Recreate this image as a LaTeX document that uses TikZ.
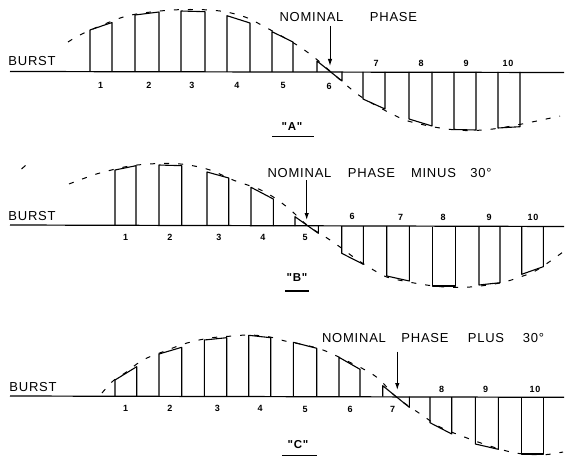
\documentclass[tikz,border=0pt]{standalone}
\usepackage{fontspec}
\setmainfont{Liberation Sans}
\newfontfamily\lettering[LetterSpace=6]{Liberation Sans}
\usetikzlibrary{arrows.meta}
\newcommand\pulse[5]{\draw[pulseline] (#1,#5) -- (#1,#2) -- (#3,#4) -- (#3,#5);}
\begin{document}
\begin{tikzpicture}[x=1pt,y=-1pt,
  baseline/.style={line width=1.2pt,black},
  pulseline/.style={line width=1.1pt,black,line join=round},
  envelope/.style={line width=1.0pt,black,dash pattern=on 5pt off 9pt},
  title/.style={font=\lettering\fontsize{13}{14}\selectfont,inner sep=0pt},
  num/.style={font=\lettering\bfseries\fontsize{9}{10}\selectfont,inner sep=0pt},
  lbl/.style={font=\lettering\bfseries\fontsize{11.5}{13}\selectfont,inner sep=0pt},
  arrowline/.style={line width=1.0pt,-{Latex[length=7pt,width=4.5pt]}}]
\useasboundingbox (0,0) rectangle (565,468);

% ================= Panel A =================
\node[title] (a-burst) at (32,61) {BURST};
\draw[baseline] (10,71.5) -- (564,72.5);
\draw[envelope] plot[smooth,tension=0.6] coordinates {(68,42) (80,35) (100,26) (127,16) (160,11) (190,9.5) (220,11) (245,17) (265,27) (285,38) (300,47) (315,58) (330,71) (345,84) (360,96) (375,105) (390,113) (405,120) (420,124) (440,128) (465,130.5) (493,129) (527,123) (560,116)};
\pulse{90}{30}{112}{22.5}{72}
\pulse{135}{15}{159}{12}{72}
\pulse{181}{11}{205}{11.7}{72}
\pulse{227}{15.7}{250}{23}{72}
\pulse{272}{31.7}{293}{42}{72}
\pulse{317}{61}{342}{81}{72}
\pulse{363}{99}{385}{109}{72}
\pulse{409}{119}{432}{126}{72}
\pulse{454}{129.5}{476}{130}{72}
\pulse{498}{128}{520}{126.7}{72}
\node[num] (a1) at (100.7,85) {1};
\node[num] (a2) at (149,85) {2};
\node[num] (a3) at (192,85) {3};
\node[num] (a4) at (237,85) {4};
\node[num] (a5) at (283,85) {5};
\node[num] (a6) at (329,86) {6};
\node[num] (a7) at (376,63) {7};
\node[num] (a8) at (421,63) {8};
\node[num] (a9) at (466,63) {9};
\node[num] (a10) at (508,63) {10};
\node[title] (a-nom) at (311.5,17) {NOMINAL};
\node[title] (a-pha) at (393.5,17) {PHASE};
\coordinate (a-arr-s) at (330,26);
\coordinate (a-arr-e) at (330,66);
\draw[arrowline] (a-arr-s) -- (a-arr-e);
\node[lbl] (a-lbl) at (292,127) {"A"};
\draw[line width=1.1pt] (272,136.5) -- (314,136.5);

% ================= Panel B =================
\draw[line width=1pt] (21.5,169) -- (25.5,165.5);
\node[title] (b-burst) at (32,216) {BURST};
\draw[baseline] (10,225) -- (564,226.5);
\draw[envelope] plot[smooth,tension=0.6] coordinates {(69,184) (85,178) (100,173) (130,166) (160,163.5) (185,164.5) (210,170) (233,180) (263,191) (287,207) (307,225) (327,238) (340,247) (352,256) (363,263.5) (377,272) (390,278) (420,284) (445,287) (470,287) (500,283) (520,277) (537,270) (563,252)};
\pulse{115}{170}{136}{165.7}{225.5}
\pulse{159}{165}{181.7}{165.7}{225.5}
\pulse{207}{172}{228.7}{178}{225.5}
\pulse{251}{187.3}{273.3}{199}{226}
\pulse{295}{216.7}{318.3}{233.3}{226}
\pulse{341.7}{253.3}{363.3}{264.3}{226}
\pulse{386.7}{276}{409.3}{281}{226}
\pulse{432.7}{286}{455.7}{286}{226.5}
\pulse{479}{285}{500}{282.7}{226.5}
\pulse{521.7}{274.3}{543.3}{266.7}{226.5}
\node[num] (b1) at (125.7,237) {1};
\node[num] (b2) at (170,237) {2};
\node[num] (b3) at (219,237) {3};
\node[num] (b4) at (263,237) {4};
\node[num] (b5) at (305,237) {5};
\node[num] (b6) at (352,216.7) {6};
\node[num] (b7) at (400.7,217) {7};
\node[num] (b8) at (443,217) {8};
\node[num] (b9) at (489,217) {9};
\node[num] (b10) at (533,217) {10};
\node[title] (b-nom) at (299.5,173) {NOMINAL};
\node[title] (b-pha) at (371.5,173) {PHASE};
\node[title] (b-min) at (433.5,173) {MINUS};
\node[title] (b-deg) at (481,173) {30°};
\coordinate (b-arr-s) at (306.7,180);
\coordinate (b-arr-e) at (306.7,220);
\draw[arrowline] (b-arr-s) -- (b-arr-e);
\node[lbl] (b-lbl) at (297,278) {"B"};
\draw[line width=1.1pt] (285,291) -- (309,291);

% ================= Panel C =================
\node[title] (c-burst) at (33,387) {BURST};
\draw[baseline] (10,396) -- (564,397.3);
\draw[envelope] plot[smooth,tension=0.6] coordinates {(102,393) (113,381) (125,373) (143,360) (165,351) (187,343) (210,338) (233,336) (250,335) (270,337) (285,341) (305,345) (323,350) (345,360) (367,371) (380,380) (395,396) (410,407) (422,415) (440,427) (467,438) (493,447) (513,452.5) (530,454.5) (547,454.5) (563,452)};
\pulse{115}{380}{136.7}{366.7}{396}
\pulse{159}{354}{181.7}{347.3}{396}
\pulse{204.3}{340}{226.7}{337.7}{396}
\pulse{248.7}{335.3}{270.7}{337.7}{396.5}
\pulse{293.3}{342.3}{316.7}{348.3}{396.5}
\pulse{339}{357.3}{360}{369.3}{396.5}
\pulse{382.7}{385.7}{409.3}{407.3}{396.5}
\pulse{430}{422.7}{451.7}{434}{397}
\pulse{475.3}{444}{498.3}{449.3}{397}
\pulse{521.7}{454}{543.3}{454}{397}
\node[num] (c1) at (125.7,408.3) {1};
\node[num] (c2) at (170,408.3) {2};
\node[num] (c3) at (217.3,408.3) {3};
\node[num] (c4) at (260,408.3) {4};
\node[num] (c5) at (305,409) {5};
\node[num] (c6) at (350,409) {6};
\node[num] (c7) at (392.7,409) {7};
\node[num] (c8) at (441.7,389.3) {8};
\node[num] (c9) at (485.7,389.3) {9};
\node[num] (c10) at (535,389.3) {10};
\node[title] (c-nom) at (354,338.3) {NOMINAL};
\node[title] (c-pha) at (425,338.3) {PHASE};
\node[title] (c-plu) at (486,338.3) {PLUS};
\node[title] (c-deg) at (533.5,338.3) {30°};
\coordinate (c-arr-s) at (397.3,351.7);
\coordinate (c-arr-e) at (397.3,390);
\draw[arrowline] (c-arr-s) -- (c-arr-e);
\node[lbl] (c-lbl) at (298,445) {"C"};
\draw[line width=1.1pt] (282,455.7) -- (317,455.7);
\end{tikzpicture}
\end{document}
